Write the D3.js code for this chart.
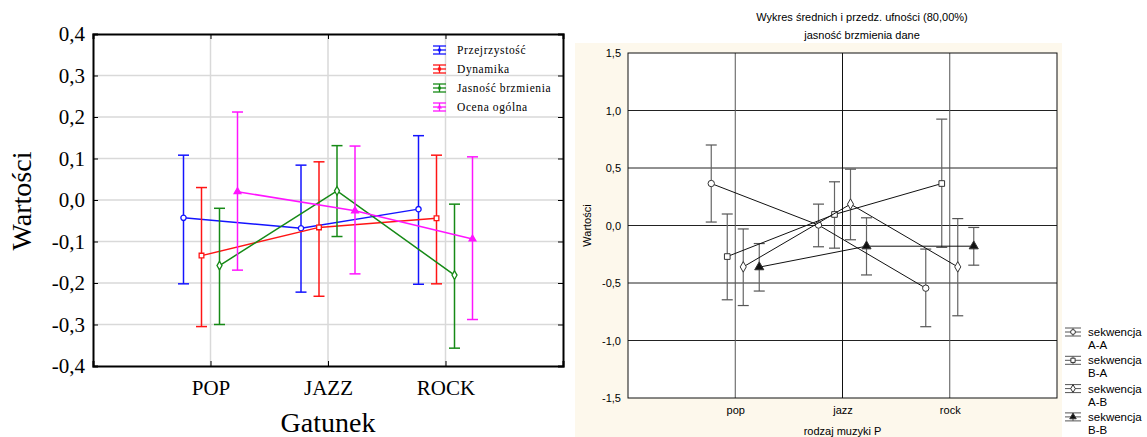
<!DOCTYPE html>
<html>
<head>
    <meta charset="utf-8">
    <title>Wartości wg gatunku</title>
    <script src="https://cdnjs.cloudflare.com/ajax/libs/d3/7.8.5/d3.min.js"></script>
    <style>
        body { margin: 0; background: #fff; }
        svg { display: block; }
        .serif { font-family: "Liberation Serif", "Times New Roman", serif; fill: #000; }
        .sans { font-family: "Liberation Sans", Arial, sans-serif; fill: #000; }
    </style>
</head>
<body>
<svg id="chart"></svg>
<script>
    // ---- left chart data ----
    const catsL = ["POP", "JAZZ", "ROCK"];
    const seriesL = ["Przejrzystość", "Dynamika", "Jasność brzmienia", "Ocena ogólna"];
    const colorsL = ["#1414ff", "#ff1414", "#168a16", "#ff14ff"];
    const meanL = [[-0.043, -0.068, -0.022], [-0.134, -0.066, -0.044], [-0.158, 0.022, -0.181], [0.020, -0.026, -0.094]];
    const lowL  = [[-0.202, -0.222, -0.203], [-0.305, -0.232, -0.202], [-0.300, -0.088, -0.357], [-0.169, -0.178, -0.288]];
    const highL = [[0.108, 0.084, 0.155], [0.030, 0.092, 0.108], [-0.020, 0.131, -0.010], [0.212, 0.130, 0.104]];
    const yTicksL = [-0.4, -0.3, -0.2, -0.1, 0.0, 0.1, 0.2, 0.3, 0.4];

    // ---- right chart data ----
    const catsR = ["pop", "jazz", "rock"];
    const seriesR = [["sekwencja", "A-A"], ["sekwencja", "B-A"], ["sekwencja", "A-B"], ["sekwencja", "B-B"]];
    const meanR = [[0.365, 0.004, -0.545], [-0.270, 0.096, 0.365], [-0.360, 0.186, -0.360], [-0.362, -0.180, -0.180]];
    const lowR  = [[0.030, -0.185, -0.880], [-0.646, -0.197, -0.190], [-0.696, -0.124, -0.785], [-0.570, -0.430, -0.345]];
    const highR = [[0.700, 0.186, -0.205], [0.100, 0.380, 0.925], [-0.030, 0.490, 0.060], [-0.157, 0.067, -0.017]];
    const yTicksR = [-1.5, -1.0, -0.5, 0.0, 0.5, 1.0, 1.5];

    const fmt = d => d3.format(".1f")(d).replace(".", ",").replace("−", "-");
    const symbols = [d3.symbolCircle, d3.symbolSquare, d3.symbolDiamond, d3.symbolTriangle];

    const width = 1147, height = 437;
    const svg = d3.select("#chart").attr("width", width).attr("height", height);

    // ================= LEFT CHART =================
    const L = {left: 93, right: 563, top: 34, bottom: 366};
    const xL = d3.scaleLinear().domain([0, 4]).range([L.left, L.right]);
    const yL = d3.scaleLinear().domain([-0.4, 0.4]).range([L.bottom, L.top]);
    const offL = d3.scalePoint().domain(d3.range(seriesL.length)).range([-27, 27]);

    const gl = svg.append("g");
    // grid
    gl.selectAll(".hg").data(yTicksL.slice(1, -1)).join("line")
        .attr("x1", L.left).attr("x2", L.right)
        .attr("y1", d => yL(d)).attr("y2", d => yL(d))
        .attr("stroke", "#d9d9d9").attr("stroke-width", 1.5);
    gl.selectAll(".vg").data(catsL).join("line")
        .attr("x1", (d, i) => xL(i + 1)).attr("x2", (d, i) => xL(i + 1))
        .attr("y1", L.top).attr("y2", L.bottom)
        .attr("stroke", "#d9d9d9").attr("stroke-width", 1.5);

    // axes (inner ticks on all four sides)
    gl.append("g").attr("transform", `translate(${L.left},0)`)
        .call(d3.axisLeft(yL).tickValues(yTicksL).tickSize(-5).tickPadding(8).tickFormat(fmt))
        .call(g => g.selectAll("text").attr("class", "serif").attr("font-size", 21))
        .call(g => g.select(".domain").attr("stroke-width", 2));
    gl.append("g").attr("transform", `translate(${L.right},0)`)
        .call(d3.axisRight(yL).tickValues(yTicksL).tickSize(-5).tickFormat(""))
        .call(g => g.select(".domain").attr("stroke-width", 2));
    gl.append("g").attr("transform", `translate(0,${L.bottom})`)
        .call(d3.axisBottom(xL).tickValues([1, 2, 3]).tickSize(-5).tickPadding(14).tickFormat(d => catsL[d - 1]))
        .call(g => g.selectAll("text").attr("class", "serif").attr("font-size", 21))
        .call(g => g.select(".domain").attr("stroke-width", 2));
    gl.append("g").attr("transform", `translate(0,${L.top})`)
        .call(d3.axisTop(xL).tickValues([1, 2, 3]).tickSize(-5).tickFormat(""))
        .call(g => g.select(".domain").attr("stroke-width", 2));
    gl.selectAll(".domain").attr("stroke", "#000");

    // series
    seriesL.forEach((s, si) => {
        const g = gl.append("g");
        const c = colorsL[si];
        const px = i => xL(i + 1) + offL(si);
        catsL.forEach((cat, i) => {
            g.append("line").attr("x1", px(i)).attr("x2", px(i))
                .attr("y1", yL(lowL[si][i])).attr("y2", yL(highL[si][i]))
                .attr("stroke", c).attr("stroke-width", 1.5);
            [lowL[si][i], highL[si][i]].forEach(v => {
                g.append("line").attr("x1", px(i) - 5.5).attr("x2", px(i) + 5.5)
                    .attr("y1", yL(v)).attr("y2", yL(v))
                    .attr("stroke", c).attr("stroke-width", 1.5);
            });
        });
        g.append("path")
            .attr("d", d3.line().x((d, i) => px(i)).y(d => yL(d))(meanL[si]))
            .attr("fill", "none").attr("stroke", c).attr("stroke-width", 1.5);
        g.selectAll(".m").data(meanL[si]).join("path")
            .attr("transform", (d, i) => `translate(${px(i)},${yL(d)})`)
            .attr("d", d3.symbol().type(symbols[si]).size(si === 3 ? 20 : 22))
            .attr("fill", si === 3 ? c : "#fff").attr("stroke", c).attr("stroke-width", 1.3);
    });

    // legend
    const legL = gl.append("g");
    seriesL.forEach((s, si) => {
        const cy = 50 + si * 19, cx = 439.5, c = colorsL[si];
        legL.append("line").attr("x1", cx - 6.5).attr("x2", cx + 6.5).attr("y1", cy - 4).attr("y2", cy - 4).attr("stroke", c).attr("stroke-width", 1.3);
        legL.append("line").attr("x1", cx - 6.5).attr("x2", cx + 6.5).attr("y1", cy + 4).attr("y2", cy + 4).attr("stroke", c).attr("stroke-width", 1.3);
        legL.append("line").attr("x1", cx - 6.5).attr("x2", cx + 6.5).attr("y1", cy).attr("y2", cy).attr("stroke", c).attr("stroke-width", 1.3);
        legL.append("line").attr("x1", cx).attr("x2", cx).attr("y1", cy - 4).attr("y2", cy + 4).attr("stroke", c).attr("stroke-width", 1.3);
        legL.append("path").attr("transform", `translate(${cx},${cy})`)
            .attr("d", d3.symbol().type(symbols[si]).size(10)).attr("fill", c);
        legL.append("text").attr("class", "serif").attr("x", 457).attr("y", cy + 4)
            .attr("font-size", 11.5).attr("letter-spacing", 0.6).attr("fill", "#222").text(s);
    });

    gl.append("text").attr("class", "serif").attr("font-size", 28)
        .attr("text-anchor", "middle").attr("x", xL(2)).attr("y", 432).text("Gatunek");
    gl.append("text").attr("class", "serif").attr("font-size", 28)
        .attr("text-anchor", "middle").attr("transform", "translate(31,201) rotate(-90)").text("Wartości");

    // ================= RIGHT CHART =================
    const R = {left: 628, right: 1057, top: 53, bottom: 398};
    svg.append("rect").attr("x", 575).attr("y", 43).attr("width", 1062 - 575).attr("height", height - 43).attr("fill", "#fdf8ec");
    const xR = d3.scaleLinear().domain([0, 4]).range([R.left, R.right]);
    const yR = d3.scaleLinear().domain([-1.5, 1.5]).range([R.bottom, R.top]);
    const offR = d3.scalePoint().domain(d3.range(seriesR.length)).range([-24, 24]);

    const gr = svg.append("g");
    gr.append("rect").attr("x", R.left).attr("y", R.top).attr("width", R.right - R.left).attr("height", R.bottom - R.top).attr("fill", "#fff");
    gr.selectAll(".hg").data(yTicksR.slice(1, -1)).join("line")
        .attr("x1", R.left).attr("x2", R.right)
        .attr("y1", d => yR(d)).attr("y2", d => yR(d))
        .attr("stroke", "#222").attr("stroke-width", 1);
    gr.selectAll(".vg").data(catsR).join("line")
        .attr("x1", (d, i) => xR(i + 1)).attr("x2", (d, i) => xR(i + 1))
        .attr("y1", R.top).attr("y2", R.bottom)
        .attr("stroke", (d, i) => i === 1 ? "#111" : "#555").attr("stroke-width", 1);
    gr.append("rect").attr("x", R.left).attr("y", R.top).attr("width", R.right - R.left).attr("height", R.bottom - R.top)
        .attr("fill", "none").attr("stroke", "#111").attr("stroke-width", 1);

    gr.append("g").attr("transform", `translate(${R.left},0)`)
        .call(d3.axisLeft(yR).tickValues(yTicksR).tickSize(0).tickPadding(7).tickFormat(fmt))
        .call(g => g.select(".domain").remove())
        .call(g => g.selectAll("text").attr("class", "sans").attr("font-size", 11));
    gr.append("g").attr("transform", `translate(0,${R.bottom})`)
        .call(d3.axisBottom(xR).tickValues([1, 2, 3]).tickSize(0).tickPadding(8).tickFormat(d => catsR[d - 1]))
        .call(g => g.select(".domain").remove())
        .call(g => g.selectAll("text").attr("class", "sans").attr("font-size", 11));

    seriesR.forEach((s, si) => {
        const g = gr.append("g");
        const px = i => xR(i + 1) + offR(si);
        catsR.forEach((cat, i) => {
            g.append("line").attr("x1", px(i)).attr("x2", px(i))
                .attr("y1", yR(lowR[si][i])).attr("y2", yR(highR[si][i]))
                .attr("stroke", "#666").attr("stroke-width", 1.2);
            [lowR[si][i], highR[si][i]].forEach(v => {
                g.append("line").attr("x1", px(i) - 5.5).attr("x2", px(i) + 5.5)
                    .attr("y1", yR(v)).attr("y2", yR(v))
                    .attr("stroke", "#555").attr("stroke-width", 1.2);
            });
        });
    });
    seriesR.forEach((s, si) => {
        const px = i => xR(i + 1) + offR(si);
        gr.append("path")
            .attr("d", d3.line().x((d, i) => px(i)).y(d => yR(d))(meanR[si]))
            .attr("fill", "none").attr("stroke", "#111").attr("stroke-width", 1);
        gr.append("g").selectAll("path").data(meanR[si]).join("path")
            .attr("transform", (d, i) => `translate(${px(i)},${yR(d)})`)
            .attr("d", d3.symbol().type(symbols[si]).size(si === 3 ? 36 : 32))
            .attr("fill", si === 3 ? "#111" : "#fff").attr("stroke", "#333").attr("stroke-width", 1);
    });

    // legend right
    seriesR.forEach((s, si) => {
        const cy = 332 + si * 28.3, cx = 1073;
        const g = svg.append("g");
        [-4, 4].forEach(dy => g.append("line").attr("x1", cx - 8).attr("x2", cx + 8).attr("y1", cy + dy).attr("y2", cy + dy).attr("stroke", "#555"));
        g.append("line").attr("x1", cx - 8).attr("x2", cx + 8).attr("y1", cy).attr("y2", cy).attr("stroke", "#555");
        g.append("line").attr("x1", cx).attr("x2", cx).attr("y1", cy - 4).attr("y2", cy + 4).attr("stroke", "#555");
        g.append("path").attr("transform", `translate(${cx},${cy})`)
            .attr("d", d3.symbol().type(symbols[si]).size(18))
            .attr("fill", si === 3 ? "#111" : "#fff").attr("stroke", "#333");
        g.append("text").attr("class", "sans").attr("font-size", 11.5).attr("x", 1088).attr("y", cy + 4).text(s[0]);
        g.append("text").attr("class", "sans").attr("font-size", 11.5).attr("x", 1088).attr("y", cy + 17).text(s[1]);
    });

    svg.append("text").attr("class", "sans").attr("font-size", 11).attr("text-anchor", "middle")
        .attr("x", 862).attr("y", 21).text("Wykres średnich i przedz. ufności (80,00%)");
    svg.append("text").attr("class", "sans").attr("font-size", 11).attr("text-anchor", "middle")
        .attr("x", 862).attr("y", 39).text("jasność brzmienia dane");
    svg.append("text").attr("class", "sans").attr("font-size", 11).attr("text-anchor", "middle")
        .attr("x", xR(2)).attr("y", 435).text("rodzaj muzyki P");
    svg.append("text").attr("class", "sans").attr("font-size", 11).attr("text-anchor", "middle")
        .attr("transform", `translate(591,${yR(0)}) rotate(-90)`).text("Wartości");
</script>
</body>
</html>
